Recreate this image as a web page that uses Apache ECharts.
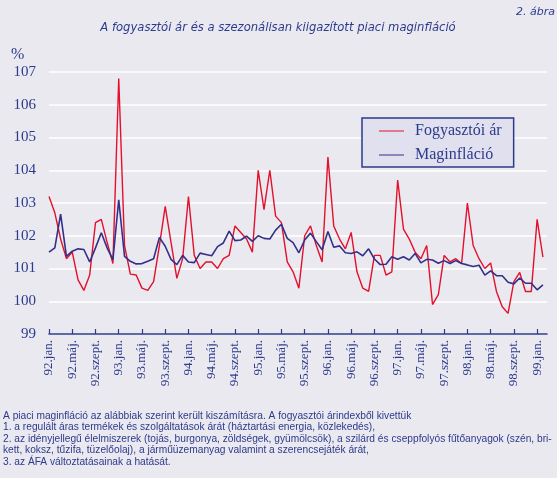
<!DOCTYPE html>
<html><head><meta charset="utf-8">
<script src="https://cdn.jsdelivr.net/npm/echarts@6/dist/echarts.min.js"></script>
<style>html,body{margin:0;padding:0;background:#EBE9F0}#c{width:557px;height:478px}</style>
</head><body><div id="c"></div>
<script>
const monthNames = ['jan.','febr.','márc.','ápr.','máj.','jún.','júl.','aug.','szept.','okt.','nov.','dec.'];
const years = ['92','93','94','95','96','97','98','99'];
const months = [];
years.forEach(y => monthNames.forEach(m => months.push(y + '.' + m)));
months.length = 86; // 92.jan. .. 99.febr.

const tickLabels = ['92.jan.','92.máj.','92.szept.','93.jan.','93.máj.','93.szept.','94.jan.','94.máj.','94.szept.','95.jan.','95.máj.','95.szept.','96.jan.','96.máj.','96.szept.','97.jan.','97.máj.','97.szept.','98.jan.','98.máj.','98.szept.','99.jan.'];

const fogyasztoi = [
 103.2,102.7,101.9,101.3,101.5,100.65,100.33,100.8,102.4,102.5,101.8,101.15,
 106.8,101.7,100.83,100.8,100.4,100.33,100.6,101.7,102.9,101.8,100.7,101.3,
 103.2,101.4,101.0,101.2,101.2,101.0,101.3,101.4,102.3,102.1,101.9,101.5,
 104.0,102.8,104.0,102.6,102.4,101.2,100.9,100.4,102.0,102.3,101.7,101.2,
 104.4,102.3,101.9,101.6,102.1,100.9,100.4,100.3,101.4,101.4,100.8,100.9,
 103.7,102.2,101.9,101.5,101.3,101.7,99.9,100.2,101.4,101.2,101.3,101.15,
 103.0,101.7,101.3,101.0,101.17,100.3,99.83,99.63,100.6,100.88,100.3,100.3,
 102.5,101.35
];
const maginflacio = [
 101.5,101.63,102.66,101.37,101.53,101.6,101.58,101.2,101.63,102.09,101.63,101.27,
 103.1,101.37,101.22,101.14,101.15,101.22,101.3,101.95,101.68,101.28,101.12,101.4,
 101.2,101.18,101.47,101.43,101.39,101.67,101.78,102.14,101.85,101.87,101.99,101.83,
 102.0,101.92,101.9,102.17,102.35,101.92,101.79,101.48,101.87,102.08,101.82,101.57,
 102.13,101.65,101.69,101.48,101.46,101.51,101.39,101.6,101.29,101.12,101.13,101.36,
 101.28,101.36,101.26,101.46,101.17,101.28,101.26,101.16,101.24,101.15,101.24,101.15,
 101.11,101.06,101.1,100.8,100.93,100.78,100.78,100.58,100.53,100.71,100.55,100.55,
 100.35,100.5
];
const footnote = [
 'A piaci maginfláció az alábbiak szerint került kiszámításra. A fogyasztói árindexből kivettük',
 '1. a regulált áras termékek és szolgáltatások árát (háztartási energia, közlekedés),',
 '2. az idényjellegű élelmiszerek (tojás, burgonya, zöldségek, gyümölcsök), a szilárd és cseppfolyós fűtőanyagok (szén, bri-',
 'kett, koksz, tűzifa, tüzelőolaj), a járműüzemanyag valamint a szerencsejáték árát,',
 '3. az ÁFA változtatásainak a hatását.'
];

const NAVY = '#2C3A8C';
const tickPos = tickLabels.map((t) => months.indexOf(t));
const toPairs = arr => arr.map((v, i) => [i, v]);

const graphics = [
 {type:'text', right: 2, top: 7, style:{text:'2. ábra', font:'italic 11px "DejaVu Sans"', fill:NAVY}},
 {type:'text', x: 278, y: 28, style:{text:'A fogyasztói ár és a szezonálisan kiigazított piaci maginfláció', font:'italic 11.6px "DejaVu Sans"', fill:NAVY, textAlign:'center', textVerticalAlign:'middle'}},
 {type:'text', x: 11, y: 55, style:{text:'%', font:'16px "Liberation Serif"', fill:NAVY, textVerticalAlign:'middle'}}
];
footnote.forEach((t, k) => graphics.push({type:'text', x: 3, y: 416 + k*11.5, style:{text:t, font:'10.2px "Liberation Sans"', fill:NAVY, textVerticalAlign:'middle'}}));

const chart = echarts.init(document.getElementById('c'));
chart.setOption({
 backgroundColor: '#EBE9F0',
 animation: false,
 grid: {left: 49, right: 10, top: 72, bottom: 144},
 legend: {
  orient: 'vertical', left: 362, top: 118,
  padding: [5, 12, 4, 17], itemGap: 8, itemWidth: 25, itemHeight: 10,
  backgroundColor: '#E1E0EE', borderColor: NAVY, borderWidth: 1.5,
  textStyle: {fontFamily: 'Liberation Serif', fontSize: 16, color: NAVY, padding: [0,0,0,6]},
  icon: 'path://M0,4.5 L25,4.5 L25,5.5 L0,5.5 Z',
  data: ['Fogyasztói ár', 'Maginfláció']
 },
 xAxis: {
  type: 'value', min: 0, max: 85.7,
  splitLine: {show: false},
  axisLine: {show: true, lineStyle: {color: NAVY, width: 1.5}},
  axisTick: {show: true, inside: true, length: 5, customValues: tickPos, lineStyle: {color: NAVY, width: 1.2}},
  axisLabel: {customValues: tickPos, rotate: 90, margin: 6, fontFamily: 'Liberation Serif', fontSize: 13, color: NAVY,
   formatter: v => months[Math.round(v)] || ''}
 },
 yAxis: {
  type: 'value', min: 99, max: 107, interval: 1,
  axisLine: {show: false}, axisTick: {show: false},
  splitLine: {lineStyle: {color: '#FFFFFF', width: 1.5}},
  axisLabel: {margin: 13, fontFamily: 'Liberation Serif', fontSize: 15, color: NAVY}
 },
 series: [
  {name: 'Fogyasztói ár', type: 'line', data: toPairs(fogyasztoi), showSymbol: false, symbol: 'none',
   lineStyle: {color: '#E3102C', width: 1.4}, itemStyle: {color: '#E3102C'}, z: 2},
  {name: 'Maginfláció', type: 'line', data: toPairs(maginflacio), showSymbol: false, symbol: 'none',
   lineStyle: {color: '#323088', width: 1.6}, itemStyle: {color: '#323088'}, z: 3}
 ],
 graphic: graphics
});
</script></body></html>
